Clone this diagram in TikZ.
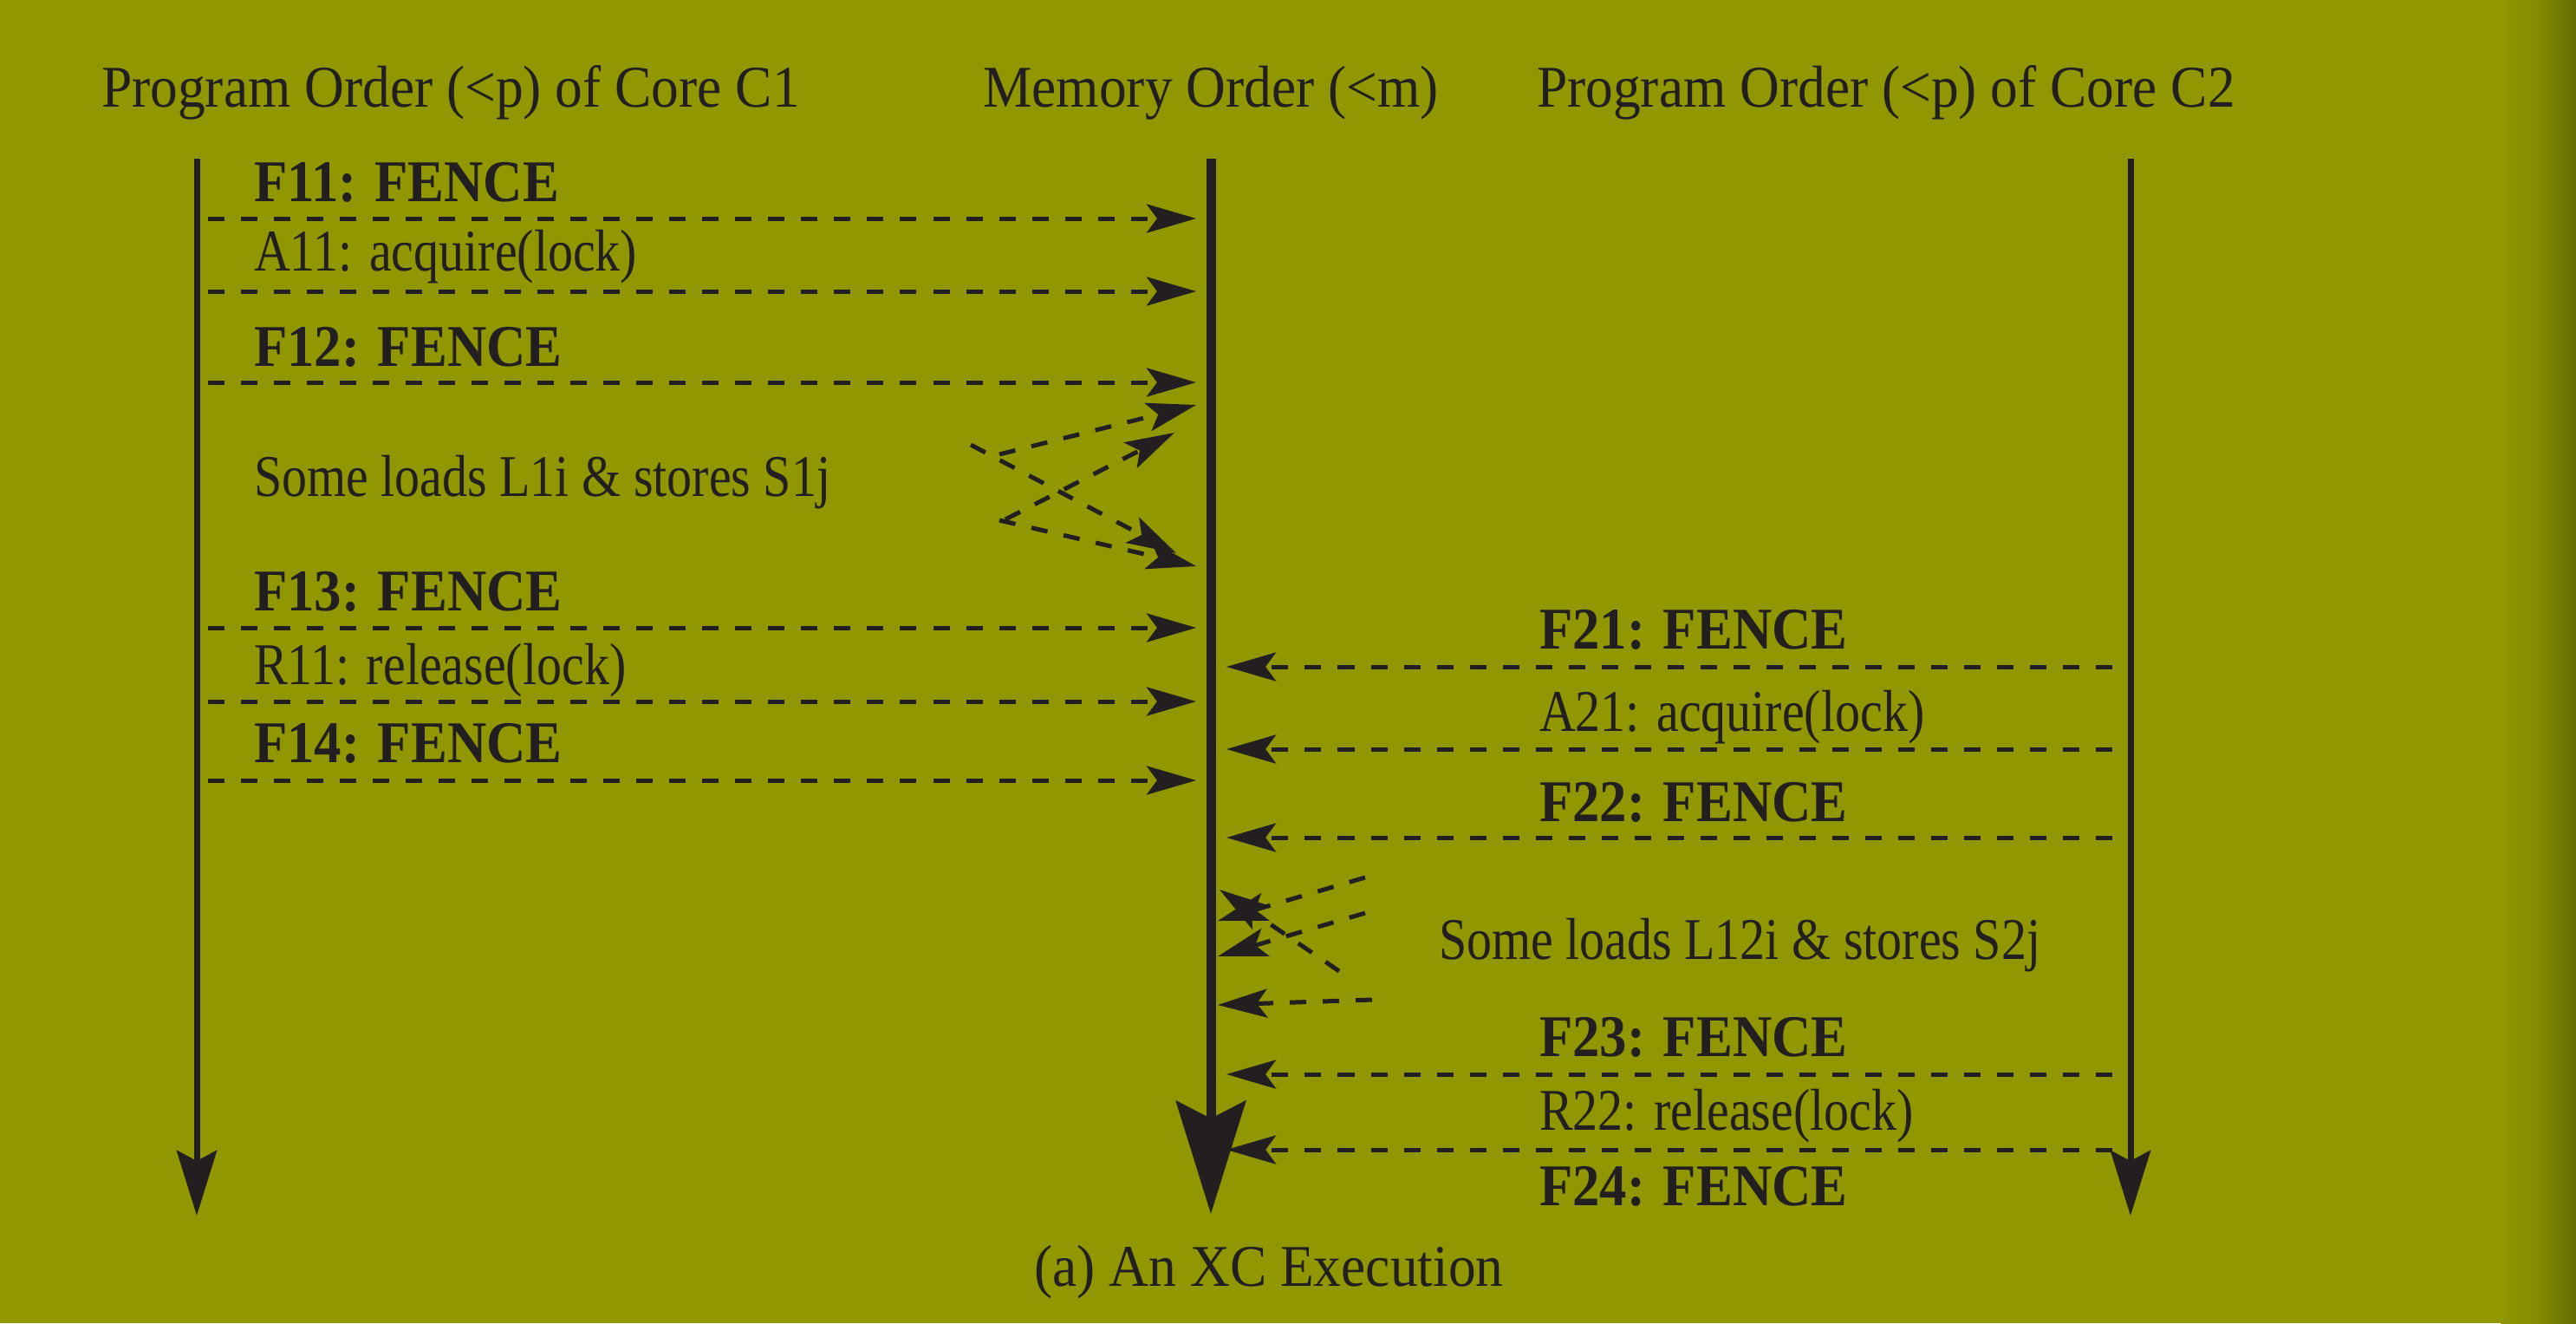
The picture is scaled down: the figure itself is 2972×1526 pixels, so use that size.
\documentclass[tikz,border=0pt]{standalone}
\usepackage{fontspec}
\setmainfont{Liberation Serif}
\newfontfamily\lblfont{Liberation Serif}[FakeStretch=0.85]
\newfontfamily\bldfont{Liberation Serif}[FakeStretch=0.92]
\newfontfamily\hdrfont{Liberation Serif}[FakeStretch=0.93]
\usetikzlibrary{arrows.meta}
\definecolor{bg}{RGB}{144,151,0}
\definecolor{bgdark}{RGB}{100,108,0}
\definecolor{ink}{RGB}{35,31,32}
\begin{document}
\begin{tikzpicture}[x=0.01cm,y=-0.01cm,
  every node/.style={inner sep=0pt,outer sep=0pt,text=ink},
  lbl/.style={font={\lblfont\fontsize{19.4pt}{23pt}\selectfont}, anchor=base west},
  bld/.style={font={\bldfont\bfseries\fontsize{19.4pt}{23pt}\selectfont}, anchor=base west},
  hdr/.style={font={\hdrfont\fontsize{19.4pt}{23pt}\selectfont}, anchor=base},
  msg/.style={draw=ink, line width=0.05cm, dash pattern=on 0.19cm off 0.19cm,
    -{Stealth[length=0.57cm,width=0.33cm,inset=0.12cm]}},
  tl/.style={draw=ink, line width=0.07cm,
    -{Stealth[length=0.75cm,width=0.46cm,inset=0.12cm]}},
  ml/.style={draw=ink, line width=0.11cm,
    -{Stealth[length=1.3cm,width=0.8cm,inset=0.2cm]}}
]
% background
\fill[bg] (0,0) rectangle (2972,1526);
\shade[left color=bg, right color=bgdark!30!bg] (2885,0) rectangle (2931,1526);
\shade[left color=bgdark!30!bg, right color=bgdark] (2930,0) rectangle (2972,1526);
\useasboundingbox (0,0) rectangle (2972,1526);

% headers
\node[hdr] (h1) at (520,123) {Program Order (<p) of Core C1};
\node[hdr] (hm) at (1397,123) {Memory Order (<m)};
\node[hdr] (h2) at (2176,123) {Program Order (<p) of Core C2};
\node[hdr] (cap) at (1464,1483) {(a) An XC Execution};

% time lines
\coordinate (c1t) at (227,183);  \coordinate (c1b) at (227,1402);
\coordinate (mt) at (1397,183);  \coordinate (mb) at (1397,1400);
\coordinate (c2t) at (2458,183); \coordinate (c2b) at (2458,1402);
\draw[tl] (c1t) -- (c1b);
\draw[tl] (c2t) -- (c2b);
\draw[ml] (mt) -- (mb);

% core 1 labels
\node[bld] (f11) at (293,232) {F11: FENCE};
\node[lbl] (a11) at (293,312) {A11: acquire(lock)};
\node[bld] (f12) at (293,422) {F12: FENCE};
\node[lbl] (s1) at (293,572) {Some loads L1i \& stores S1j};
\node[bld] (f13) at (293,704) {F13: FENCE};
\node[lbl] (r11) at (293,789) {R11: release(lock)};
\node[bld] (f14) at (293,879) {F14: FENCE};

% core 1 messages
\foreach \n/\y in {a/252,b/336,c/441,d/724,e/809,f/900}{
  \coordinate (ls\n) at (240,\y);
  \coordinate (le\n) at (1380,\y);
  \draw[msg] (ls\n) -- (le\n);
}
% core 1 crossing loads/stores
\coordinate (xa1) at (1120,513); \coordinate (xa2) at (1357,638);
\coordinate (xb1) at (1153,524); \coordinate (xb2) at (1380,467);
\coordinate (xc1) at (1160,599); \coordinate (xc2) at (1355,499);
\coordinate (xd1) at (1153,600); \coordinate (xd2) at (1380,653);
\draw[msg] (xa1) -- (xa2);
\draw[msg] (xb1) -- (xb2);
\draw[msg] (xc1) -- (xc2);
\draw[msg] (xd1) -- (xd2);

% core 2 labels
\node[bld] (f21) at (1776,748) {F21: FENCE};
\node[lbl] (a21) at (1776,843) {A21: acquire(lock)};
\node[bld] (f22) at (1776,947) {F22: FENCE};
\node[lbl] (s2) at (1660,1106) {Some loads L12i \& stores S2j};
\node[bld] (f23) at (1776,1218) {F23: FENCE};
\node[lbl] (r22) at (1776,1303) {R22: release(lock)};
\node[bld] (f24) at (1776,1390) {F24: FENCE};

% core 2 messages
\foreach \n/\y in {a/769,b/864,c/966,d/1239,e/1326}{
  \coordinate (rs\n) at (2437,\y);
  \coordinate (re\n) at (1415,\y);
  \draw[msg] (rs\n) -- (re\n);
}
% core 2 crossing loads/stores
\coordinate (ye1) at (1575,1012); \coordinate (ye2) at (1405,1062);
\coordinate (yf1) at (1575,1053); \coordinate (yf2) at (1405,1103);
\coordinate (yg1) at (1545,1120); \coordinate (yg2) at (1407,1026);
\coordinate (yh1) at (1583,1153); \coordinate (yh2) at (1405,1159);
\draw[msg] (ye1) -- (ye2);
\draw[msg] (yf1) -- (yf2);
\draw[msg] (yg1) -- (yg2);
\draw[msg] (yh1) -- (yh2);
\end{tikzpicture}
\end{document}
